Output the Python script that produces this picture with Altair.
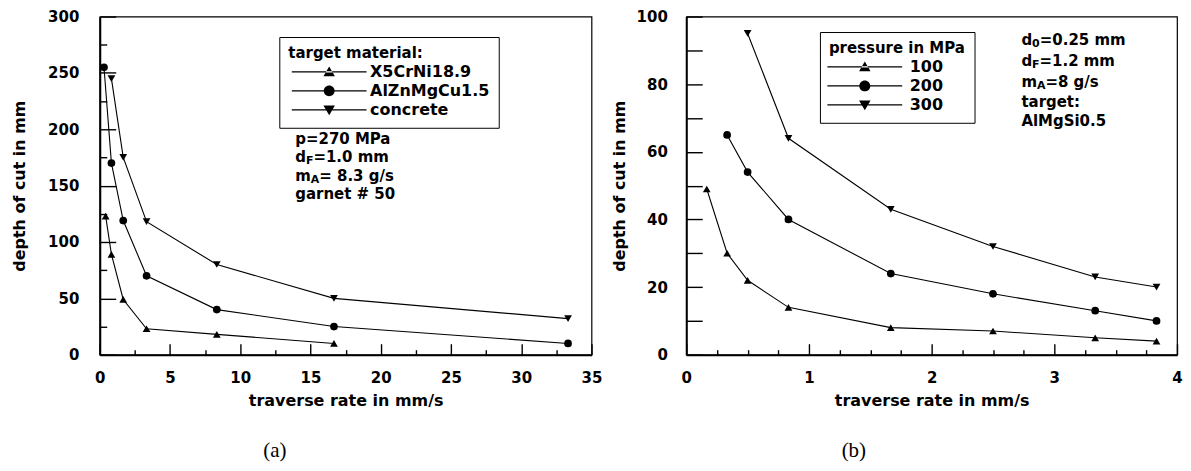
import altair as alt
import pandas as pd

FONT = "DejaVu Sans"
SERIF = "Liberation Serif"

a_names = ["X5CrNi18.9", "AlZnMgCu1.5", "concrete"]
a_x_steel = [0.42, 0.83, 1.67, 3.33, 8.33, 16.67]
a_y_steel = [123, 89, 49, 23, 18, 10]
a_x_alu = [0.3, 0.83, 1.67, 3.33, 8.33, 16.67, 33.33]
a_y_alu = [255, 170, 119, 70, 40, 25, 10]
a_x_conc = [0.83, 1.67, 3.33, 8.33, 16.67, 33.33]
a_y_conc = [245, 175, 118, 80, 50, 32]

a_x_major = [0, 5, 10, 15, 20, 25, 30, 35]
a_x_minor = [2.5, 7.5, 12.5, 17.5, 22.5, 27.5, 32.5]
a_y_major = [0, 50, 100, 150, 200, 250, 300]
a_y_minor = [25, 75, 125, 175, 225, 275]

b_names = ["100", "200", "300"]
b_x_100 = [0.167, 0.333, 0.5, 0.833, 1.667, 2.5, 3.333, 3.833]
b_y_100 = [49, 30, 22, 14, 8, 7, 5, 4]
b_x_200 = [0.333, 0.5, 0.833, 1.667, 2.5, 3.333, 3.833]
b_y_200 = [65, 54, 40, 24, 18, 13, 10]
b_x_300 = [0.5, 0.833, 1.667, 2.5, 3.333, 3.833]
b_y_300 = [95, 64, 43, 32, 23, 20]

b_x_major = [0, 1, 2, 3, 4]
b_x_minor = [0.25, 0.5, 0.75, 1.25, 1.5, 1.75, 2.25, 2.5, 2.75, 3.25, 3.5, 3.75]
b_y_major = [0, 20, 40, 60, 80, 100]
b_y_minor = [10, 30, 50, 70, 90]

x_title = "traverse rate in mm/s"
y_title = "depth of cut in mm"
a_legend_title = "target material:"
b_legend_title = "pressure in MPa"
captions = ["(a)", "(b)"]

a_notes = [("p=270 MPa", "", ""), ("d", "F", "=1.0 mm"), ("m", "A", "= 8.3 g/s"), ("garnet # 50", "", "")]
b_notes = [("d", "0", "=0.25 mm"), ("d", "F", "=1.2 mm"), ("m", "A", "=8 g/s"), ("target:", "", ""), ("AlMgSi0.5", "", "")]

SHAPES = ["triangle-up", "circle", "triangle-down"]
BAR = "M-7.5,-0.13H7.5V0.13H-7.5Z"
LEG_SHAPES = [
    BAR + "M-1.15,0.85L1.15,0.85L0,-1.1Z",
    BAR + "M1.1,0A1.1,1.1,0,1,1,-1.1,0A1.1,1.1,0,1,1,1.1,0Z",
    BAR + "M-1.15,-0.85L1.15,-0.85L0,1.1Z",
]


def long_df(names, xs, ys):
    rows = []
    for n, xv, yv in zip(names, xs, ys):
        for a, b in zip(xv, yv):
            rows.append({"x": a, "y": b, "series": n})
    return pd.DataFrame(rows)


def label_axis(orient, values, title, pad, title_pad):
    return alt.Axis(
        orient=orient, values=values, title=title, ticks=False, tickSize=0,
        labelPadding=pad, titlePadding=title_pad, grid=False,
        domain=True, domainWidth=2, domainColor="black",
        labelFont=FONT, labelFontSize=15, labelFontWeight="bold", labelColor="black",
        labelFlush=False, labelOverlap=False,
        titleFont=FONT, titleFontSize=16, titleFontWeight="bold", titleColor="black",
    )


def tick_axis(orient, values, size):
    return alt.Axis(
        orient=orient, values=values, title=None, labels=False, domain=False,
        grid=False, ticks=True, tickSize=size, offset=-size, tickColor="black", tickWidth=1.4,
    )


def txt(s, x, y, size=15):
    return alt.Chart(alt.Data(values=[{}])).mark_text(
        text=s, align="left", baseline="middle", font=FONT, fontSize=size,
        fontWeight="bold", color="black",
    ).encode(x=alt.value(x), y=alt.value(y))


def notes_layers(notes, x0, ys):
    w_main = {"d": 10.7, "m": 15.6}
    w_sub = {"F": 7.5, "A": 8.5, "0": 7.7}
    layers = []
    for (m, s, r), y in zip(notes, ys):
        layers.append(txt(m, x0, y))
        if s:
            xs = x0 + w_main[m]
            layers.append(txt(s, xs, y + 4, 11))
            layers.append(txt(r, xs + w_sub[s], y))
    return layers


def panel(df, names, xdom, ydom, xmaj, xmin, ymaj, ymin, ymaj_len, ymin_len,
          w, h, ylab_pad, ytitle_pad, leg_title, lx, ly, sym_off, lab_off,
          notes, nx, nys, caption, cap_dx):
    xs = alt.Scale(domain=xdom, nice=False, zero=False)
    ys = alt.Scale(domain=ydom, nice=False, zero=False)
    base = alt.Chart(df)
    empty = base.transform_filter("false")
    line = base.mark_line(color="black", strokeWidth=1.1).encode(
        x=alt.X("x:Q", scale=xs, axis=label_axis("bottom", xmaj, x_title, 16, 7)),
        y=alt.Y("y:Q", scale=ys, axis=label_axis("left", ymaj, y_title, ylab_pad, ytitle_pad)),
        detail="series:N",
    )
    pts = base.mark_point(filled=True, color="black", size=60, opacity=1).encode(
        x=alt.X("x:Q", scale=xs, axis=None),
        y=alt.Y("y:Q", scale=ys, axis=None),
        shape=alt.Shape("series:N", scale=alt.Scale(domain=names, range=SHAPES), legend=None),
    )
    minor = empty.mark_point(opacity=0).encode(
        x=alt.X("x:Q", scale=xs, axis=tick_axis("bottom", xmin, 5)),
        y=alt.Y("y:Q", scale=ys, axis=tick_axis("left", ymin, ymin_len)),
    )
    leg = empty.mark_point(filled=True, color="black", size=64, opacity=1).encode(
        x=alt.X("x:Q", scale=xs, axis=tick_axis("bottom", xmaj, 11)),
        y=alt.Y("y:Q", scale=ys, axis=tick_axis("left", ymaj, ymaj_len)),
        shape=alt.Shape(
            "series:N",
            scale=alt.Scale(domain=names, range=LEG_SHAPES),
            legend=alt.Legend(
                title=leg_title, orient="none", legendX=lx, legendY=ly,
                strokeColor="black", fillColor="white", padding=9, cornerRadius=0,
                titleFont=FONT, titleFontSize=15, titleFontWeight="bold", titleColor="black",
                titlePadding=3,
                labelFont=FONT, labelFontSize=16, labelFontWeight="bold", labelColor="black",
                symbolOffset=sym_off, labelOffset=lab_off, rowPadding=2,
                symbolFillColor="black", symbolOpacity=1,
            ),
        ),
    )
    layers = [line, pts, minor, leg] + notes_layers(notes, nx, nys)
    return alt.layer(*layers).resolve_axis(x="independent", y="independent").resolve_scale(
        shape="independent"
    ).properties(
        width=w, height=h,
        title=alt.TitleParams(caption, orient="bottom", font=SERIF, fontSize=21,
                              fontWeight="normal", color="black", anchor="middle",
                              frame="group", dx=cap_dx, offset=32),
    )


df_a = long_df(a_names, [a_x_steel, a_x_alu, a_x_conc], [a_y_steel, a_y_alu, a_y_conc])
df_b = long_df(b_names, [b_x_100, b_x_200, b_x_300], [b_y_100, b_y_200, b_y_300])

left = panel(df_a, a_names, [0, 35], [0, 300], a_x_major, a_x_minor, a_y_major, a_y_minor,
             16, 7, 493, 339, 21, 20, a_legend_title, 180, 20.5, 33, 33,
             a_notes, 196, [122.5, 141, 159.5, 178], captions[0], -71)
right = panel(df_b, b_names, [0, 4], [0, 100], b_x_major, b_x_minor, b_y_major, b_y_minor,
              16, 16, 492, 339, 19, 9, b_legend_title, 134, 15.5, 28, 37,
              b_notes, 336, [23.5, 44.5, 65.5, 85.5, 104.5], captions[1], -78)

chart = alt.hconcat(left, right, spacing=7).resolve_scale(
    x="independent", y="independent", shape="independent"
).properties(padding={"left": 3, "top": 0, "right": 0, "bottom": 0}).configure_view(
    stroke="black", strokeWidth=1.2
)

chart.save("out.html", embed_options={"renderer": "svg", "actions": False})
